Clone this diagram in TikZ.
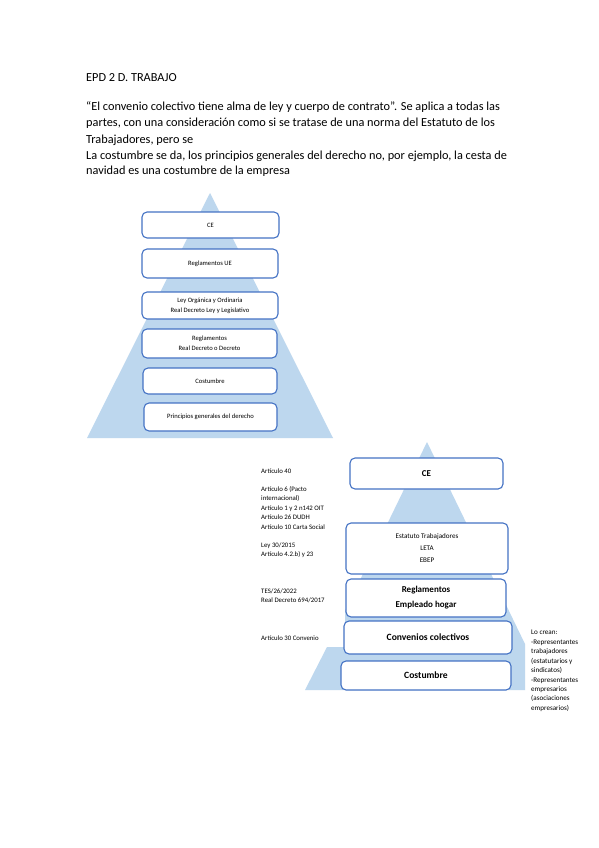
\documentclass[tikz,border=0pt]{standalone}
\usepackage{fontspec}
\setmainfont{Carlito}
\definecolor{pyr}{RGB}{189,215,238}
\definecolor{bord}{RGB}{68,114,196}
\begin{document}
\begin{tikzpicture}[x=1pt,y=-1pt,
  box/.style={draw=bord, line width=1.1pt, rounded corners=5pt, fill=white, align=center, inner sep=0pt},
  small/.style={font=\fontsize{6.6}{10}\selectfont},
  mid/.style={font=\fontsize{7.1}{12}\selectfont},
  big/.style={font=\fontsize{9}{15}\selectfont\bfseries},
  note/.style={font=\fontsize{6.8}{9}\selectfont, anchor=base west, inner sep=0pt},
  rnote/.style={font=\fontsize{7.1}{9}\selectfont, anchor=base west, inner sep=0pt},
  head/.style={font=\fontsize{12.3}{16}\selectfont, anchor=base west, inner sep=0pt}]
\useasboundingbox[fill=white] (0,0) rectangle (599,848);

% header
\node[head] (h0) at (86,82) {EPD 2 D. TRABAJO};
\node[head] (h1) at (86,111) {“El convenio colectivo tiene alma de ley y cuerpo de contrato”. Se aplica a todas las};
\node[head] (h2) at (86,127) {partes, con una consideración como si se tratase de una norma del Estatuto de los};
\node[head] (h3) at (86,143) {Trabajadores, pero se};
\node[head] (h4) at (86,159) {La costumbre se da, los principios generales del derecho no, por ejemplo, la cesta de};
\node[head] (h5) at (86,174) {navidad es una costumbre de la empresa};

% pyramid 1
\fill[pyr] (210,193) -- (333,438) -- (87,438) -- cycle;
\node[box, small, minimum width=137pt, minimum height=26pt] (ce1) at (210.5,225) {CE};
\node[box, small, minimum width=136pt, minimum height=29pt] (rue) at (210,263.5) {Reglamentos UE};
\node[box, small, minimum width=136pt, minimum height=27pt] (ley) at (210,305.5) {Ley Orgánica y Ordinaria\\Real Decreto Ley y Legislativo};
\node[box, small, minimum width=135pt, minimum height=29pt] (rd) at (209.5,343.5) {Reglamentos\\Real Decreto o Decreto};
\node[box, small, minimum width=134pt, minimum height=26pt] (cos1) at (210,381) {Costumbre};
\node[box, small, minimum width=133pt, minimum height=28pt] (pri) at (210.5,417) {Principios generales del derecho};

% pyramid 2
\fill[pyr] (427,442) -- (525,644) -- (525,690) -- (305,690) -- (327,647) -- (345,647) -- (345,611) -- cycle;
\node[box, big, minimum width=153pt, minimum height=31pt] (ce2) at (426.5,473.5) {CE};
\node[box, mid, minimum width=162pt, minimum height=51pt] (est) at (427,548.5) {Estatuto Trabajadores\\LETA\\EBEP};
\node[box, big, minimum width=160pt, minimum height=38pt] (reg2) at (426,598) {Reglamentos\\Empleado hogar};
\node[box, big, font=\fontsize{9.6}{15}\selectfont\bfseries, minimum width=168pt, minimum height=33pt] (conv) at (428,637.5) {Convenios colectivos};
\node[box, big, font=\fontsize{9.6}{15}\selectfont\bfseries, minimum width=170pt, minimum height=29pt] (cos2) at (426,675.5) {Costumbre};

% left notes
\node[note] (l1) at (261,473) {Artículo 40};
\node[note] (l2) at (261,491) {Artículo 6 (Pacto};
\node[note] (l3) at (261,500.5) {internacional)};
\node[note] (l4) at (261,510) {Artículo 1 y 2 n142 OIT};
\node[note] (l5) at (261,519.5) {Artículo 26 DUDH};
\node[note] (l6) at (261,529) {Artículo 10 Carta Social};
\node[note] (l7) at (261,547) {Ley 30/2015};
\node[note] (l8) at (261,556.5) {Artículo 4.2.b) y 23};
\node[note] (l9) at (261,593) {TES/26/2022};
\node[note] (l10) at (261,602.5) {Real Decreto 694/2017};
\node[note] (l11) at (261,640) {Artículo 30 Convenio};

% right notes
\node[rnote] (r1) at (531,634.5) {Lo crean:};
\node[rnote] (r2) at (531,644) {-Representantes};
\node[rnote] (r3) at (531,653.5) {trabajadores};
\node[rnote] (r4) at (531,663) {(estatutarios y};
\node[rnote] (r5) at (531,672.5) {sindicatos)};
\node[rnote] (r6) at (531,682) {-Representantes};
\node[rnote] (r7) at (531,691) {empresarios};
\node[rnote] (r8) at (531,700.5) {(asociaciones};
\node[rnote] (r9) at (531,710) {empresarios)};
\end{tikzpicture}
\end{document}
